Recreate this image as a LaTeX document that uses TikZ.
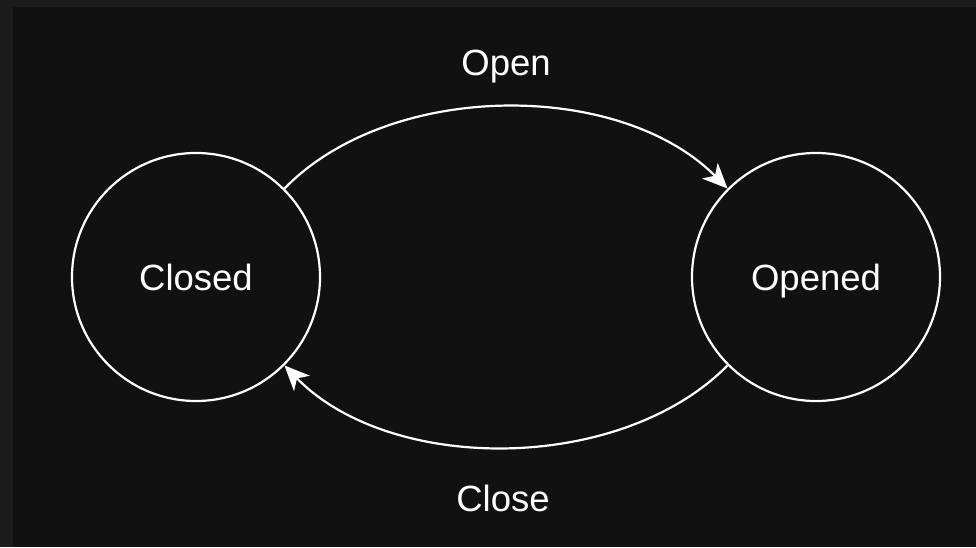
\documentclass[tikz,border=0pt]{standalone}
\usepackage{fontspec}
\setmainfont{Liberation Sans}
\usetikzlibrary{arrows.meta}
\definecolor{frame}{HTML}{1B1B1B}
\definecolor{canvas}{HTML}{111111}
\begin{document}
\begin{tikzpicture}[%
      x=1pt, y=1pt,
      state/.style={circle, draw=white, line width=2.2pt, minimum size=248pt, inner sep=0pt,
                    text=white, font=\fontsize{36.5}{42}\selectfont, text height=26pt, text depth=0pt},
      lbl/.style={text=white, font=\fontsize{36.5}{42}\selectfont, text height=26pt, text depth=0pt},
      edge/.style={draw=white, line width=2.2pt, -{Stealth[length=25pt, width=22pt, inset=7pt]}},
      ]
      \useasboundingbox (0,0) rectangle (976,547);
      \fill [color=frame] (0,0) rectangle (976,547);
      \fill [color=canvas] (13,0) rectangle (976,540);

      \node [state] (closed) at (196,270) {Closed};
      \node [state] (opened) at (816,270) {Opened};

      \node [lbl] (openlbl) at (506,484) {Open};
      \node [lbl] (closelbl) at (503,49) {Close};

      \draw [edge] (closed.45) .. controls (390,467) and (620,467) .. (opened.135);
      \draw [edge] (opened.-135) .. controls (620,73) and (390,73) .. (closed.-45);
\end{tikzpicture}
\end{document}
